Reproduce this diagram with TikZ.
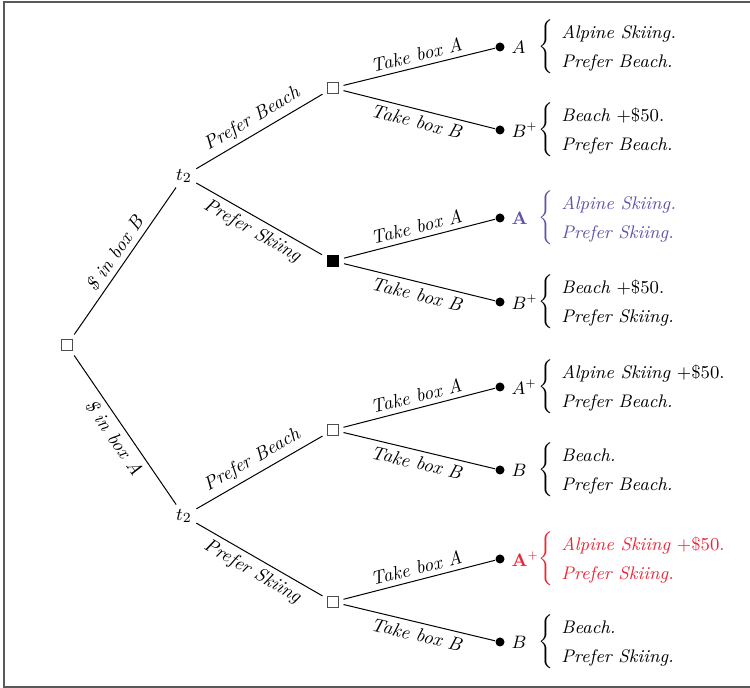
\documentclass[tikz,border=0pt]{standalone}
\usepackage{amsmath}
\usetikzlibrary{positioning}
\definecolor{skiblue}{RGB}{98,82,168}
\definecolor{skired}{RGB}{236,38,56}
\newcommand{\payoff}[2]{$\left\{\begin{tabular}{@{\hspace{4pt}}l@{}}#1\\#2\end{tabular}\right.$}
\tikzset{
every node/.style={font=\fontsize{9.5}{14.5}\selectfont\itshape},
chance/.style={rectangle, draw=black!70, line width=0.6pt, minimum size=5.5pt, inner sep=0pt, outer sep=2.5pt},
chosen/.style={rectangle, fill=black, minimum size=6pt, inner sep=0pt, outer sep=2.5pt},
player/.style={inner sep=2pt},
leaf/.style={circle, fill=black, minimum size=4.5pt, inner sep=0pt},
move/.style={midway, sloped, inner sep=2.5pt},
result/.style={inner sep=1pt},
pay/.style={inner sep=0pt, font=\fontsize{9.1}{14.5}\selectfont\itshape}
}

\begin{document}
\begin{tikzpicture}[x=0.5pt, y=-0.5pt, line width=0.5pt]
\useasboundingbox (0,0) rectangle (750,688);
\draw[line width=1pt, black!65] (760,2.5) -- (4,2.5) -- (4,687) -- (760,687);

\node[chance] (root) at (67,345) {};
\node[player] (tB) at (184,176) {$t_2$};
\node[player] (tA) at (184,516) {$t_2$};
\node[chance] (b1) at (333,88) {};
\node[chosen] (b2) at (333,261) {};
\node[chance] (b3) at (333,430) {};
\node[chance] (b4) at (333,602) {};

\node[leaf] (l1) at (500,47) {};
\node[leaf] (l2) at (500,130) {};
\node[leaf] (l3) at (500,218) {};
\node[leaf] (l4) at (500,302) {};
\node[leaf] (l5) at (500,387) {};
\node[leaf] (l6) at (500,470) {};
\node[leaf] (l7) at (500,559) {};
\node[leaf] (l8) at (500,642) {};

\node[result, right=2pt of l1] {$A$};
\node[result, right=2pt of l2] {$B^{\scriptscriptstyle+}$};
\node[result, text=skiblue, right=2pt of l3] {$\mathbf{A}$};
\node[result, right=2pt of l4] {$B^{\scriptscriptstyle+}$};
\node[result, right=2pt of l5] {$A^{\scriptscriptstyle+}$};
\node[result, right=2pt of l6] {$B$};
\node[result, text=skired, right=2pt of l7] {$\mathbf{A}^{\scriptscriptstyle+}$};
\node[result, right=2pt of l8] {$B$};

\node[pay, right=16.5pt of l1] {\payoff{Alpine Skiing.}{Prefer Beach.}};
\node[pay, right=16.5pt of l2] {\payoff{Beach $+$\textup{\$50.}}{Prefer Beach.}};
\node[pay, text=skiblue, right=16.5pt of l3] {\payoff{Alpine Skiing.}{Prefer Skiing.}};
\node[pay, right=16.5pt of l4] {\payoff{Beach $+$\textup{\$50.}}{Prefer Skiing.}};
\node[pay, right=16.5pt of l5] {\payoff{Alpine Skiing $+$\textup{\$50.}}{Prefer Beach.}};
\node[pay, right=16.5pt of l6] {\payoff{Beach.}{Prefer Beach.}};
\node[pay, text=skired, right=16.5pt of l7] {\payoff{Alpine Skiing $+$\textup{\$50.}}{Prefer Skiing.}};
\node[pay, right=16.5pt of l8] {\payoff{Beach.}{Prefer Skiing.}};

\draw (root) -- (tB) node[move, above] {\$ in box B};
\draw (root) -- (tA) node[move, below] {\$ in box A};
\draw (tB) -- (b1) node[move, above] {Prefer Beach};
\draw (tB) -- (b2) node[move, below] {Prefer Skiing};
\draw (tA) -- (b3) node[move, above] {Prefer Beach};
\draw (tA) -- (b4) node[move, below] {Prefer Skiing};
\draw (b1) -- (l1) node[move, above] {Take box A};
\draw (b1) -- (l2) node[move, below] {Take box B};
\draw (b2) -- (l3) node[move, above] {Take box A};
\draw (b2) -- (l4) node[move, below] {Take box B};
\draw (b3) -- (l5) node[move, above] {Take box A};
\draw (b3) -- (l6) node[move, below] {Take box B};
\draw (b4) -- (l7) node[move, above] {Take box A};
\draw (b4) -- (l8) node[move, below] {Take box B};
\end{tikzpicture}
\end{document}
